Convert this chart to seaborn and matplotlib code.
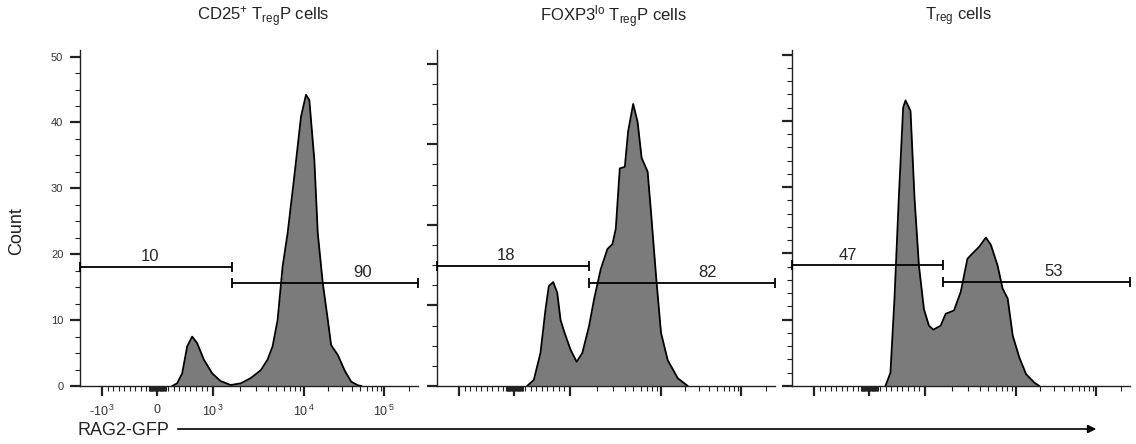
import numpy as np
import pandas as pd
import matplotlib
matplotlib.use("Agg")
import matplotlib.pyplot as plt
from matplotlib.patches import FancyArrowPatch
import seaborn as sns

#%% Data (RAG2-GFP fluorescence vs count)

titles = [r"CD25$^{+}$ T$_{\mathrm{reg}}$P cells",
          r"FOXP3$^{\mathrm{lo}}$ T$_{\mathrm{reg}}$P cells",
          r"T$_{\mathrm{reg}}$ cells"]

p1_x = [267, 358, 449, 540, 630, 721, 842, 994, 1224, 1577, 2030, 2614, 3370, 3990,
        4530, 5140, 5830, 6620, 7830, 9280, 10590, 11650, 13450, 14830, 17130, 19800,
        21750, 26390, 31900, 38680, 46900, 52000]
p1_count = [0, 0.4, 1.9, 6.0, 7.5, 6.5, 4.0, 1.9, 0.75, 0.15, 0.4, 1.2, 2.4, 4.0,
            6.0, 10.0, 18.1, 23.2, 31.8, 40.9, 44.2, 43.4, 34.3, 23.2, 15.6, 10.0,
            6.2, 4.7, 2.4, 0.66, 0.1, 0]

p2_x = [230, 352, 473, 564, 624, 703, 776, 836, 909, 1025, 1194, 1379, 1630, 1848,
        2191, 2595, 2943, 3200, 3543, 4020, 4370, 4960, 5540, 6140, 7140, 7770, 8820,
        10000, 12130, 16170, 21560]
p2_count = [0, 0.74, 4.1, 9.5, 12.4, 12.9, 11.6, 8.2, 6.6, 4.5, 3.0, 4.1, 7.4, 10.7,
            14.5, 17.0, 17.6, 19.5, 27.0, 27.2, 31.6, 35.0, 32.8, 28.3, 26.6, 21.6, 13.7,
            6.6, 3.2, 0.96, 0]

p3_x = [291, 382, 455, 533, 612, 655, 745, 818, 897, 988, 1115, 1246, 1499, 1701,
        2098, 2486, 2943, 3340, 3950, 4680, 5310, 6280, 7140, 8110, 9210, 11000,
        13340, 16930, 19550]
p3_count = [0, 2.0, 13.2, 28.3, 42.0, 43.1, 41.5, 28.3, 18.2, 11.6, 9.1, 8.5, 9.1, 10.9,
            11.4, 14.2, 19.2, 20.0, 21.0, 22.4, 21.3, 18.2, 14.7, 13.2, 7.6, 4.3,
            1.8, 0.5, 0]

# gates: split point, level of left / right bar, percentages
gate_split = [1617, 1630, 1605]
left_level = [18.1, 14.9, 18.2]
right_level = [15.6, 12.8, 15.7]
left_pct = ["10", "18", "47"]
right_pct = ["90", "82", "53"]

xmin, xmax = -1400, 262144
x_major = [-1000, 0, 1000, 10000, 100000]
x_major_labels = [r"-10$^{\,3}$", "0", r"10$^{\,3}$", r"10$^{\,4}$", r"10$^{\,5}$"]

#%% FlowJo-like axis: linear around zero, log above 10^3

def fwd(x):
    x = np.asarray(x, dtype=float)
    lg = np.log10(np.clip(x, 1e-9, None))
    return np.where(x <= 1000, x * 0.055,
                    np.where(x <= 1e4, 55 + 91 * (lg - 3), 146 + 80 * (lg - 4)))

def inv(u):
    u = np.asarray(u, dtype=float)
    uc = np.clip(u, -1e3, 600)
    return np.where(u <= 55, u / 0.055,
                    np.where(u <= 146, 10 ** (3 + (uc - 55) / 91), 10 ** (4 + (uc - 146) / 80)))

x_minor = (list(range(-900, -100, 100)) + list(range(-150, 0, 10)) + list(range(10, 160, 10))
           + list(range(200, 1000, 100)) + list(range(2000, 10000, 1000))
           + list(range(20000, 100000, 10000)) + [200000])

#%% Plot

sns.set_style("ticks")
plt.rcParams['font.family'] = ['Liberation Sans', 'DejaVu Sans']
plt.rcParams['mathtext.fontset'] = 'custom'
plt.rcParams['mathtext.rm'] = 'Liberation Sans'
plt.rcParams['mathtext.it'] = 'Liberation Sans:italic'
plt.rcParams['mathtext.bf'] = 'Liberation Sans:bold'

fig = plt.figure(figsize=(11.36, 4.44), dpi=100)

panels = [(p1_x, p1_count), (p2_x, p2_count), (p3_x, p3_count)]
lefts = [80 / 1136, 437 / 1136, 792 / 1136]
ytops = [51, 41.7, 50.7]
ymajor_step = [10, 10, 10]
yminor_step = [2.5, 2.5, 2]
ymajor_top = [50, 40, 50]
title_x = [263, 613, 958]
lab_left_x = [0.207, 0.205, 0.166]
lab_right_x = [0.837, 0.801, 0.774]
cap = [0.75, 0.62, 0.75]

for i, (xs, cs) in enumerate(panels):
    ax = fig.add_axes([lefts[i], 58 / 444, 338 / 1136, 336 / 444])
    df = pd.DataFrame({'gfp': xs, 'count': cs})

    sns.lineplot(data=df, x='gfp', y='count', ax=ax, color='black', lw=1.3,
                 estimator=None, sort=False, zorder=3)
    ax.fill_between(df['gfp'], 0, df['count'], color='#7b7b7b', lw=0, zorder=2)

    ax.set_xscale('function', functions=(fwd, inv))
    ax.set_xlim(xmin, xmax)
    ax.set_ylim(0, ytops[i])

    # gates
    s = gate_split[i]
    ax.hlines(left_level[i], xmin, s, color='black', lw=1.3, clip_on=False, zorder=4)
    ax.hlines(right_level[i], s, xmax, color='black', lw=1.3, clip_on=False, zorder=4)
    for gx, gl in [(xmin, left_level[i]), (s, left_level[i]), (s, right_level[i]), (xmax, right_level[i])]:
        ax.vlines(gx, gl - cap[i], gl + cap[i], color='black', lw=1.3, clip_on=False, zorder=4)
    tr = ax.get_yaxis_transform()
    ax.annotate(left_pct[i], (lab_left_x[i], left_level[i]), xycoords=tr,
                xytext=(0, 2), textcoords='offset points', ha='center', va='bottom', fontsize=12)
    ax.annotate(right_pct[i], (lab_right_x[i], right_level[i]), xycoords=tr,
                xytext=(0, 2), textcoords='offset points', ha='center', va='bottom', fontsize=12)

    # axes styling
    for sp in ['top', 'right']:
        ax.spines[sp].set_visible(False)
    for sp in ['left', 'bottom']:
        ax.spines[sp].set_color('#222222')
        ax.spines[sp].set_linewidth(1.0)
    ax.set_xlabel('')
    ax.set_ylabel('')

    ax.set_xticks(x_major)
    ax.set_xticks(x_minor, minor=True)
    ax.set_yticks(np.arange(0, ymajor_top[i] + 0.1, ymajor_step[i]))
    ax.set_yticks(np.arange(0, ytops[i], yminor_step[i]), minor=True)
    ax.tick_params(which='major', direction='out', length=7, width=1.6, color='#222222')
    ax.tick_params(which='minor', direction='out', length=3.5, width=0.8, color='#222222')
    if i == 0:
        ax.set_xticklabels(x_major_labels, fontsize=9, color='#333333')
        ax.tick_params(axis='y', labelsize=8, labelcolor='#333333', pad=5)
        ax.tick_params(axis='x', pad=6)
    else:
        ax.set_xticklabels([])
        ax.set_yticklabels([])

    fig.text(title_x[i] / 1136, 1 - 17 / 444, titles[i], ha='center', va='center',
             fontsize=12, color='#222222')

fig.text(17 / 1136, 1 - 231 / 444, 'Count', rotation=90, ha='center', va='center',
         fontsize=13, color='#222222')
fig.text(77 / 1136, 1 - 430 / 444, 'RAG2-GFP', ha='left', va='center',
         fontsize=13, color='#222222')
arrow = FancyArrowPatch((175 / 1136, 1 - 429 / 444), (1099 / 1136, 1 - 429 / 444),
                        transform=fig.transFigure, arrowstyle='-|>', mutation_scale=12,
                        lw=1.2, color='black')
fig.add_artist(arrow)

fig.savefig('out.png', dpi=100)
